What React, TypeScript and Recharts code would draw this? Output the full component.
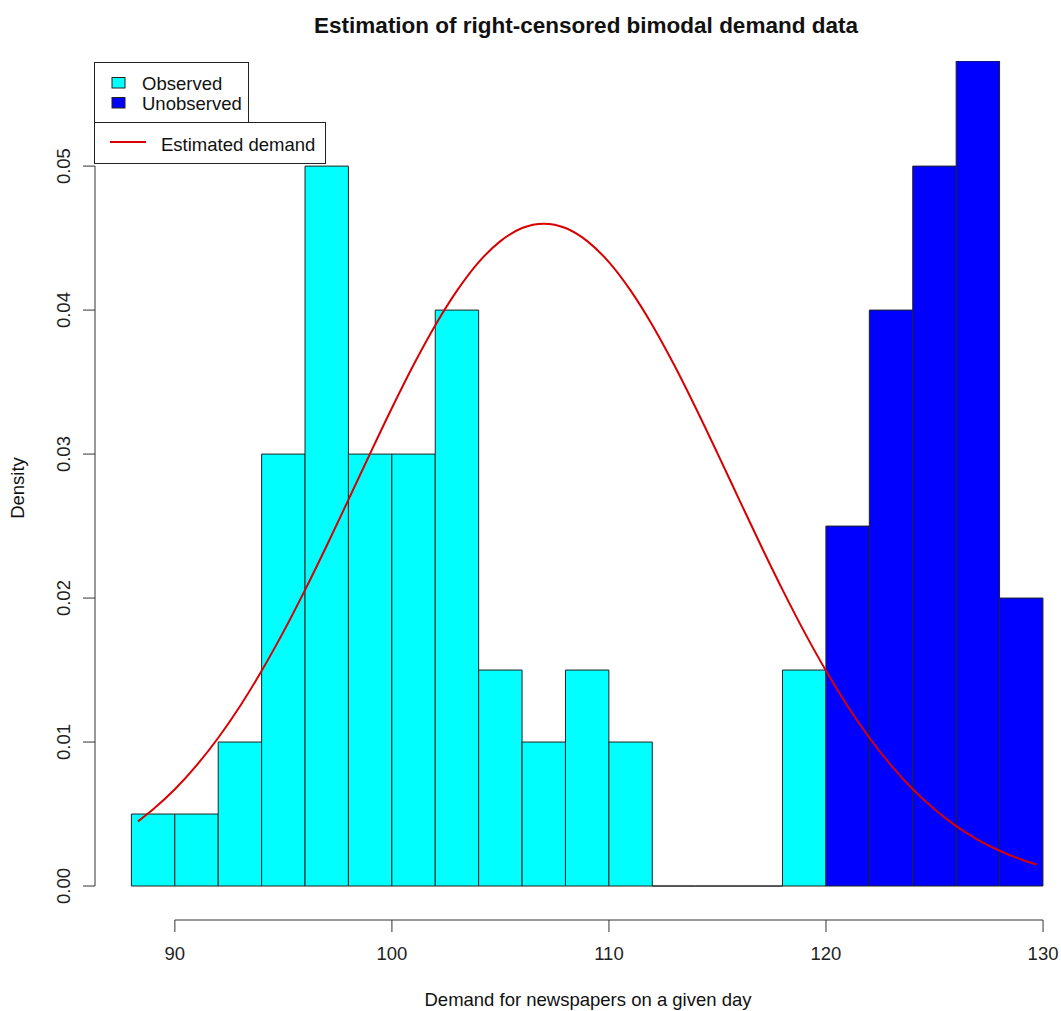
import {
  ComposedChart,
  Bar,
  Line,
  XAxis,
  YAxis,
  Cell,
  ReferenceLine,
  Customized,
} from "recharts";

// histogram bins (width 2), mid points and densities
const binWidth = 2;
const binMids = [89, 91, 93, 95, 97, 99, 101, 103, 105, 107, 109, 111, 113, 115, 117, 119, 121, 123, 125, 127, 129];
const binDensity = [
  0.005, 0.005, 0.01, 0.03, 0.05, 0.03, 0.03, 0.04, 0.015, 0.01, 0.015, 0.01, 0, 0, 0, 0.015,
  0.025, 0.04, 0.05, 0.0573, 0.02,
];
const binGroup = [
  "Observed", "Observed", "Observed", "Observed", "Observed", "Observed", "Observed",
  "Observed", "Observed", "Observed", "Observed", "Observed", "Observed", "Observed",
  "Observed", "Observed", "Unobserved", "Unobserved", "Unobserved", "Unobserved", "Unobserved",
];

// estimated demand curve
const curveX = [
  88.3, 89, 90, 91, 92, 93, 94, 95, 96, 97, 98, 99, 100, 101, 102, 103, 104, 105, 106, 107, 108,
  109, 110, 111, 112, 113, 114, 115, 116, 117, 118, 119, 120, 121, 122, 123, 124, 125, 126, 127,
  128, 129, 129.7,
];
const curveDensity = [
  0.00449, 0.00533, 0.00672, 0.00838, 0.0103, 0.01249, 0.01495, 0.01765, 0.02057, 0.02365,
  0.02684, 0.03005, 0.0332, 0.0362, 0.03895, 0.04135, 0.04333, 0.04479, 0.0457, 0.046, 0.0457,
  0.04479, 0.04333, 0.04135, 0.03895, 0.0362, 0.0332, 0.03005, 0.02684, 0.02365, 0.02057,
  0.01765, 0.01495, 0.01249, 0.0103, 0.00838, 0.00672, 0.00533, 0.00416, 0.00321, 0.00245,
  0.00184, 0.00149,
];

const xTicks = [90, 100, 110, 120, 130];
const yTicks = [0, 0.01, 0.02, 0.03, 0.04, 0.05];
const xDomain = [86.32, 131.68];
const yDomain = [-0.00236, 0.0573];

const FONT = '"Liberation Sans", Arial, Helvetica, sans-serif';
const groupColors: Record<string, string> = { Observed: "#00ffff", Unobserved: "#0000ff" };
const curveColor = "#d80000";
const axisColor = "#333";

const CHART_W = 1100;
const CHART_H = 1011;
const MARGIN = { top: 61, right: 20.5, bottom: 0, left: 0 };
const Y_AXIS_W = 95;
const plotW = CHART_W - MARGIN.left - MARGIN.right - Y_AXIS_W;
const pxPerUnit = plotW / (xDomain[1] - xDomain[0]);

const bins = binMids.map((x, i) => ({ x, density: binDensity[i], group: binGroup[i] }));
const curve = curveX.map((x, i) => ({ x, d: curveDensity[i] }));

// R-style rect spanning the full bin; zero height still leaves a line on the baseline
function HistRect(props: any) {
  const { x, y, width, height, fill } = props;
  const cx = x + width / 2;
  const w = binWidth * pxPerUnit;
  return (
    <path
      d={`M${cx - w / 2},${y}h${w}v${height}h${-w}Z`}
      fill={fill}
      stroke="#222"
      strokeWidth={1}
    />
  );
}

function YTick(props: any) {
  const { x, y, payload } = props;
  return (
    <text
      transform={`translate(${x},${y}) rotate(-90)`}
      textAnchor="middle"
      fontSize={18.5}
      fontFamily={FONT}
      fill="#222"
    >
      {Number(payload.value).toFixed(2)}
    </text>
  );
}

function Annotations() {
  return (
    <g fontFamily={FONT} fill="#111">
      <text x={586} y={33} textAnchor="middle" fontSize={22.5} fontWeight="bold">
        Estimation of right-censored bimodal demand data
      </text>
      <text x={588} y={1006} textAnchor="middle" fontSize={18.5}>
        Demand for newspapers on a given day
      </text>
      <text transform="translate(24,488) rotate(-90)" textAnchor="middle" fontSize={18.5}>
        Density
      </text>

      {/* legend */}
      <rect x={94.5} y={62.5} width={154} height={60} fill="#fff" stroke="#222" />
      <rect x={112} y={77.5} width={13} height={10.5} fill={groupColors.Observed} stroke="#222" />
      <rect x={112} y={97.5} width={13} height={10.5} fill={groupColors.Unobserved} stroke="#222" />
      <text x={142} y={90} fontSize={18.5}>Observed</text>
      <text x={142} y={110} fontSize={18.5}>Unobserved</text>

      <rect x={94.5} y={122.5} width={231} height={41} fill="#fff" stroke="#222" />
      <line x1={110} x2={146} y1={142} y2={142} stroke={curveColor} strokeWidth={2} />
      <text x={161} y={151} fontSize={18.5}>Estimated demand</text>
    </g>
  );
}

export default function App() {
  return (
    <div
      style={{
        position: "absolute",
        left: 0,
        top: 0,
        width: 1061,
        height: 1011,
        overflow: "hidden",
        background: "#fff",
      }}
    >
      <ComposedChart width={CHART_W} height={CHART_H} data={bins} margin={MARGIN}>
        <XAxis
          type="number"
          dataKey="x"
          domain={xDomain}
          allowDataOverflow
          ticks={xTicks}
          interval={0}
          axisLine={false}
          tickSize={12}
          tickMargin={15}
          tickLine={{ stroke: axisColor }}
          tick={{ fill: "#222", fontSize: 18.5, fontFamily: FONT }}
          height={91}
        />
        <YAxis
          type="number"
          domain={yDomain}
          allowDataOverflow
          ticks={yTicks}
          interval={0}
          axisLine={false}
          width={Y_AXIS_W}
          tickSize={12}
          tickMargin={13}
          tickLine={{ stroke: axisColor }}
          tick={<YTick />}
        />
        <ReferenceLine
          segment={[
            { x: xTicks[0], y: yDomain[0] },
            { x: xTicks[xTicks.length - 1], y: yDomain[0] },
          ]}
          stroke={axisColor}
          ifOverflow="visible"
        />
        <ReferenceLine
          segment={[
            { x: xDomain[0], y: yTicks[0] },
            { x: xDomain[0], y: yTicks[yTicks.length - 1] },
          ]}
          stroke={axisColor}
          ifOverflow="visible"
        />
        <Bar dataKey="density" shape={<HistRect />} isAnimationActive={false}>
          {bins.map((b, i) => (
            <Cell key={i} fill={groupColors[b.group]} />
          ))}
        </Bar>
        <Line
          data={curve}
          dataKey="d"
          type="monotone"
          stroke={curveColor}
          strokeWidth={2}
          dot={false}
          activeDot={false}
          isAnimationActive={false}
        />
        <Customized component={<Annotations />} />
      </ComposedChart>
    </div>
  );
}
